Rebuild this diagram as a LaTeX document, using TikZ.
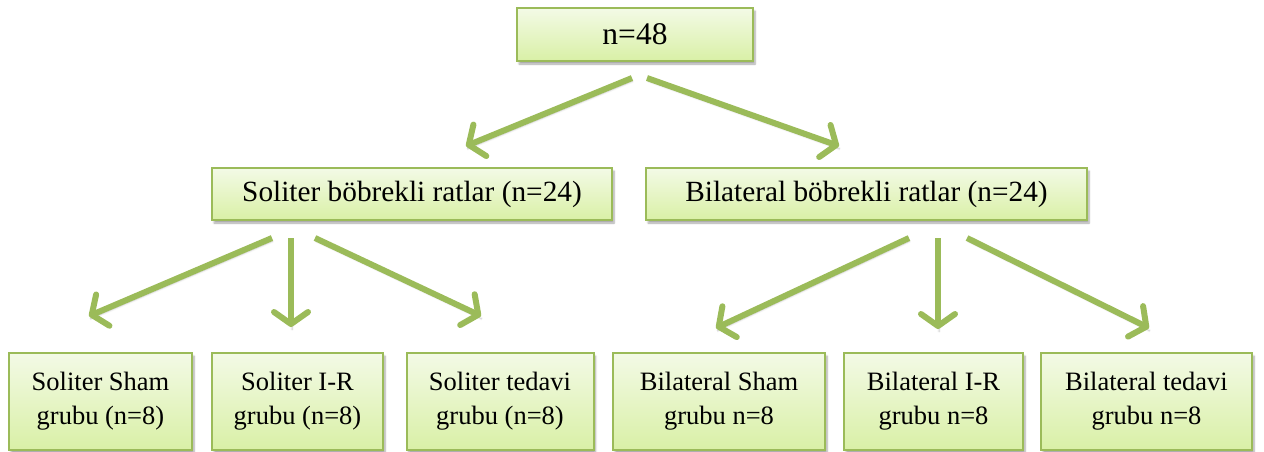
\documentclass[tikz,border=0pt]{standalone}
\usepackage{fontspec}
\setmainfont{Liberation Serif}
\usetikzlibrary{arrows.meta,shadows.blur}

\definecolor{olivegreen}{HTML}{9BBB59}
\definecolor{boxtop}{HTML}{F3FAE6}
\definecolor{boxbottom}{HTML}{D9F0A6}

\tikzset{
  greenbox/.style={
    draw=olivegreen, line width=2pt, inner sep=0pt,
    top color=boxtop, bottom color=boxbottom,
    blur shadow={shadow xshift=2pt, shadow yshift=-3pt, shadow blur steps=6, shadow opacity=35},
    align=center, text=black
  },
  bigtext/.style={font=\fontsize{31.5}{36}\selectfont},
  midtext/.style={font=\fontsize{29.3}{34}\selectfont},
  smalltext/.style={font=\fontsize{26.5}{34}\selectfont},
  flow/.style={
    draw=olivegreen, line width=6pt,
    -{Straight Barb[length=12pt,width=34pt,line width=6pt,line cap=round,line join=round]},
    blur shadow={shadow xshift=1pt, shadow yshift=-3pt, shadow blur steps=5, shadow opacity=25}
  }
}

\begin{document}
\begin{tikzpicture}[x=1pt,y=-1pt]
  \useasboundingbox (0,0) rectangle (1264,451);

  % root
  \node[greenbox, bigtext, minimum width=236pt, minimum height=53pt] (root) at (635,34.5) {n=48};

  % second level
  \node[greenbox, midtext, minimum width=400pt, minimum height=52pt] (sol) at (412,194) {Soliter böbrekli ratlar (n=24)};
  \node[greenbox, midtext, minimum width=441pt, minimum height=52pt] (bil) at (866.5,194) {Bilateral böbrekli ratlar (n=24)};

  % groups
  \node[greenbox, smalltext, minimum width=183pt, minimum height=97pt] (s1) at (100.5,401.5) {Soliter Sham\\grubu (n=8)};
  \node[greenbox, smalltext, minimum width=171pt, minimum height=97pt] (s2) at (297.5,401.5) {Soliter I-R\\grubu (n=8)};
  \node[greenbox, smalltext, minimum width=187pt, minimum height=97pt] (s3) at (500,401.5) {Soliter tedavi\\grubu (n=8)};
  \node[greenbox, smalltext, minimum width=212pt, minimum height=97pt] (b1) at (719,401.5) {Bilateral Sham\\grubu n=8};
  \node[greenbox, smalltext, minimum width=179pt, minimum height=97pt] (b2) at (933.5,401.5) {Bilateral I-R\\grubu n=8};
  \node[greenbox, smalltext, minimum width=211pt, minimum height=97pt] (b3) at (1146.5,401.5) {Bilateral tedavi\\grubu n=8};

  % connector end points
  \coordinate (r1a) at (632,78);  \coordinate (r1b) at (466,146);
  \coordinate (r2a) at (647,78);  \coordinate (r2b) at (839,146);

  \coordinate (s1a) at (272,238); \coordinate (s1b) at (89,316);
  \coordinate (s2a) at (291,238); \coordinate (s2b) at (291,327);
  \coordinate (s3a) at (315,238); \coordinate (s3b) at (481,316);

  \coordinate (b1a) at (909,238); \coordinate (b1b) at (716,328);
  \coordinate (b2a) at (938,238); \coordinate (b2b) at (938,329);
  \coordinate (b3a) at (967,238); \coordinate (b3b) at (1149,328);

  \draw[flow] (r1a) -- (r1b);
  \draw[flow] (r2a) -- (r2b);
  \draw[flow] (s1a) -- (s1b);
  \draw[flow] (s2a) -- (s2b);
  \draw[flow] (s3a) -- (s3b);
  \draw[flow] (b1a) -- (b1b);
  \draw[flow] (b2a) -- (b2b);
  \draw[flow] (b3a) -- (b3b);
\end{tikzpicture}
\end{document}
